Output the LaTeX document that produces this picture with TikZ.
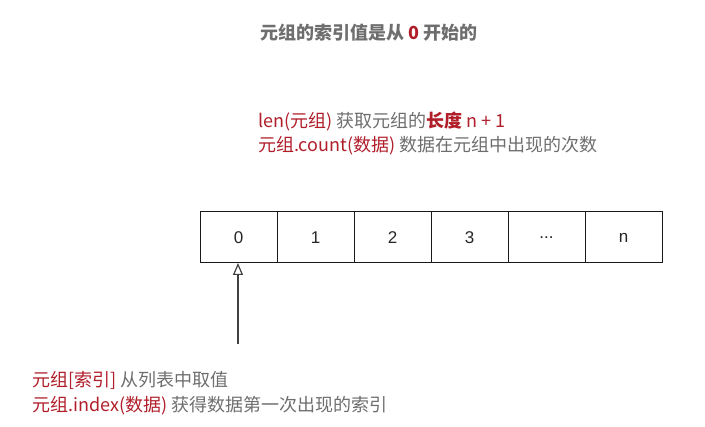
\documentclass[tikz,border=0pt]{standalone}
\usepackage{fontspec}
\setmainfont{Liberation Sans}
\newfontfamily\cjk{Noto Sans CJK SC}
\usetikzlibrary{positioning,arrows.meta}

\definecolor{hlred}{RGB}{176,30,42}
\definecolor{txtgray}{RGB}{110,110,110}

\begin{document}
\begin{tikzpicture}[x=1pt,y=-1pt]

% ---------- parameters ----------
\def\cellW{77}
\def\cellH{51}

% ---------- styles ----------
\tikzset{
  cell/.style={draw=black!90,line width=1pt,minimum width=\cellW pt,
    minimum height=\cellH pt,inner sep=0pt,outer sep=0pt,
    font=\fontsize{17}{20}\selectfont,text=black!85},
  note/.style={anchor=west,inner sep=0pt,align=left,text=txtgray,
    font=\cjk\fontsize{18}{26}\selectfont},
  ptr/.style={draw=black!75,line width=1.3pt,
    -{Triangle[open,length=12pt,width=10pt,line width=1.2pt]}}
}

\useasboundingbox (0,0) rectangle (705,427);

% ---------- title ----------
\node[note] (title) at (260,33)
  {\bfseries 元组的索引值是从 \textcolor{hlred}{0} 开始的};

% ---------- length / count ----------
\node[note] (lenfn) at (258,121)
  {\textcolor{hlred}{len(元组)} 获取元组的\textcolor{hlred}{\textbf{长度} n + 1}};
\node[note] (countfn) at (258,146)
  {\textcolor{hlred}{元组.count(数据)} 数据在元组中出现的次数};

% ---------- cells ----------
\node[cell] (c0) at ({200+\cellW/2},237.5) {0};
\node[cell,right=0pt of c0] (c1) {1};
\node[cell,right=0pt of c1] (c2) {2};
\node[cell,right=0pt of c2] (c3) {3};
\node[cell,right=0pt of c3] (c4) {...};
\node[cell,right=0pt of c4] (cn) {n};

% ---------- pointer ----------
\coordinate (ptrfoot) at (238,344);
\draw[ptr] (ptrfoot) -- (ptrfoot |- c0.south);

% ---------- index / lookup ----------
\node[note] (getitem) at (32,380)
  {\textcolor{hlred}{元组[索引]} 从列表中取值};
\node[note] (indexfn) at (32,406)
  {\textcolor{hlred}{元组.index(数据)} 获得数据第一次出现的索引};

\end{tikzpicture}
\end{document}
